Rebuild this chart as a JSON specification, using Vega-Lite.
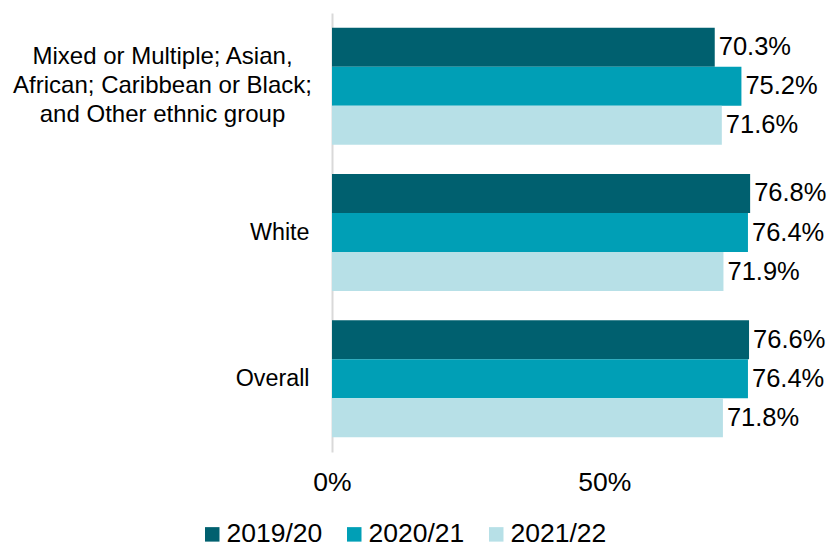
{
  "$schema": "https://vega.github.io/schema/vega-lite/v6.json",
  "width": 490,
  "height": 439,
  "autosize": "none",
  "padding": {"left": 332, "top": 13, "right": 8, "bottom": 96},
  "background": "white",
  "config": {
    "font": "Liberation Sans",
    "view": {"stroke": null},
    "axis": {"grid": false, "ticks": false, "labelColor": "#000000", "title": null}
  },
  "data": {
    "values": [
      {"group": "Mixed or Multiple; Asian, African; Caribbean or Black; and Other ethnic group", "year": "2019/20", "value": 0.703},
      {"group": "Mixed or Multiple; Asian, African; Caribbean or Black; and Other ethnic group", "year": "2020/21", "value": 0.752},
      {"group": "Mixed or Multiple; Asian, African; Caribbean or Black; and Other ethnic group", "year": "2021/22", "value": 0.716},
      {"group": "White", "year": "2019/20", "value": 0.768},
      {"group": "White", "year": "2020/21", "value": 0.764},
      {"group": "White", "year": "2021/22", "value": 0.719},
      {"group": "Overall", "year": "2019/20", "value": 0.766},
      {"group": "Overall", "year": "2020/21", "value": 0.764},
      {"group": "Overall", "year": "2021/22", "value": 0.718}
    ]
  },
  "encoding": {
    "y": {
      "field": "group",
      "type": "nominal",
      "sort": ["Mixed or Multiple; Asian, African; Caribbean or Black; and Other ethnic group", "White", "Overall"],
      "scale": {"paddingInner": 0.2, "paddingOuter": 0.1},
      "axis": {
        "domain": true,
        "domainColor": "#D9D9D9",
        "domainWidth": 2,
        "labelFontSize": {"condition": {"test": "datum.value == 'White' || datum.value == 'Overall'", "value": 23.3}, "value": 24},
        "labelLineHeight": 29,
        "labelLimit": 0,
        "labelBaseline": "middle",
        "labelAlign": {"condition": {"test": "datum.value == 'White' || datum.value == 'Overall'", "value": "right"}, "value": "center"},
        "labelPadding": {"condition": {"test": "datum.value == 'White' || datum.value == 'Overall'", "value": 23}, "value": 170},
        "labelOffset": {"condition": {"test": "datum.value == 'White' || datum.value == 'Overall'", "value": 0}, "value": -29},
        "labelExpr": "datum.value == 'White' || datum.value == 'Overall' ? datum.value : ['Mixed or Multiple; Asian,', 'African; Caribbean or Black;', 'and Other ethnic group']"
      }
    },
    "yOffset": {
      "field": "year",
      "type": "nominal",
      "sort": ["2019/20", "2020/21", "2021/22"],
      "scale": {"paddingInner": 0, "paddingOuter": 0}
    },
    "x": {
      "field": "value",
      "type": "quantitative",
      "scale": {"domain": [0, 0.9], "nice": false},
      "axis": {
        "values": [0, 0.5],
        "format": ".0%",
        "domain": false,
        "labelFlush": false,
        "labelFontSize": 26.5,
        "labelPadding": 17
      }
    }
  },
  "layer": [
    {
      "mark": {"type": "bar"},
      "encoding": {
        "color": {
          "field": "year",
          "type": "nominal",
          "sort": ["2019/20", "2020/21", "2021/22"],
          "scale": {"domain": ["2019/20", "2020/21", "2021/22"], "range": ["#00606F", "#009FB6", "#B7E0E7"]},
          "legend": {
            "title": null,
            "orient": "none",
            "direction": "horizontal",
            "legendX": -133,
            "legendY": 508,
            "symbolType": "square",
            "symbolSize": 210,
            "symbolStrokeWidth": 0,
            "labelFontSize": 26.5,
            "labelColor": "#000000",
            "labelOffset": 1,
            "columnPadding": 18
          }
        }
      }
    },
    {
      "mark": {"type": "text", "align": "left", "baseline": "middle", "dx": 4, "fontSize": 25.5, "color": "#000000"},
      "encoding": {
        "text": {"field": "value", "type": "quantitative", "format": ".1%"}
      }
    }
  ]
}
